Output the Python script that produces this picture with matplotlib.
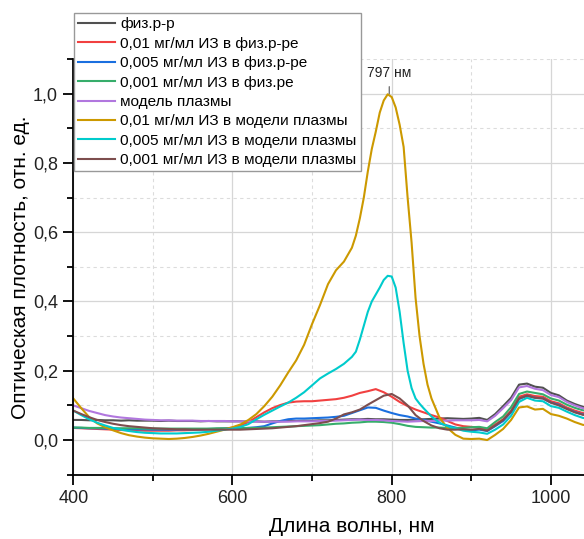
import matplotlib
matplotlib.use('Agg')
import matplotlib.pyplot as plt
from matplotlib.ticker import MultipleLocator, FuncFormatter

plt.rcParams['font.family'] = ['Liberation Sans', 'DejaVu Sans']

# wavelength grid, nm
wavelength = list(range(400, 1060, 10))
# finer grid round the peak for the two strong ICG curves
wavelength_peak = list(range(400, 751, 10)) + list(range(755, 851, 5)) + list(range(860, 1051, 10))

# optical density
phys = [0.058, 0.058, 0.057, 0.058, 0.057, 0.057, 0.056, 0.057, 0.056, 0.056,
        0.056, 0.055, 0.056, 0.055, 0.055, 0.055, 0.054, 0.055, 0.054, 0.054,
        0.054, 0.054, 0.053, 0.054, 0.053, 0.054, 0.054, 0.055, 0.055, 0.056,
        0.056, 0.057, 0.057, 0.058, 0.059, 0.060, 0.060, 0.061, 0.060, 0.060,
        0.059, 0.058, 0.058, 0.059, 0.060, 0.061, 0.062, 0.063, 0.062, 0.061,
        0.062, 0.064, 0.058, 0.075, 0.098, 0.122, 0.160, 0.163, 0.154, 0.151,
        0.136, 0.129, 0.114, 0.104, 0.096, 0.092]

red_01 = [0.035, 0.034, 0.033, 0.032, 0.031, 0.030, 0.029, 0.028, 0.028, 0.027,
          0.027, 0.027, 0.027, 0.028, 0.028, 0.029, 0.030, 0.031, 0.032, 0.033,
          0.036, 0.042, 0.052, 0.066, 0.080, 0.092, 0.101, 0.108, 0.111, 0.112,
          0.112, 0.114, 0.116, 0.118, 0.122, 0.128, 0.136, 0.141, 0.147, 0.138,
          0.125, 0.110, 0.098, 0.088, 0.080, 0.072, 0.065, 0.055, 0.045, 0.040,
          0.038, 0.036, 0.031, 0.045, 0.060, 0.085, 0.125, 0.132, 0.127, 0.125,
          0.112, 0.106, 0.094, 0.085, 0.078, 0.075]

blue_005 = [0.036, 0.035, 0.034, 0.034, 0.033, 0.033, 0.032, 0.032, 0.031, 0.031,
            0.030, 0.030, 0.030, 0.030, 0.031, 0.031, 0.031, 0.032, 0.032, 0.033,
            0.033, 0.034, 0.035, 0.037, 0.040, 0.048, 0.055, 0.060, 0.062, 0.062,
            0.063, 0.064, 0.065, 0.067, 0.070, 0.078, 0.086, 0.094, 0.093, 0.085,
            0.078, 0.072, 0.068, 0.062, 0.058, 0.053, 0.048, 0.042, 0.036, 0.030,
            0.028, 0.030, 0.026, 0.040, 0.055, 0.080, 0.118, 0.128, 0.122, 0.120,
            0.108, 0.102, 0.090, 0.081, 0.074, 0.071]

green_001 = [0.036, 0.036, 0.035, 0.035, 0.035, 0.034, 0.034, 0.034, 0.034, 0.033,
             0.033, 0.033, 0.033, 0.033, 0.033, 0.033, 0.033, 0.033, 0.034, 0.034,
             0.034, 0.034, 0.035, 0.035, 0.036, 0.037, 0.038, 0.039, 0.040, 0.041,
             0.042, 0.043, 0.045, 0.047, 0.048, 0.050, 0.051, 0.053, 0.053, 0.052,
             0.050, 0.046, 0.041, 0.038, 0.037, 0.036, 0.036, 0.035, 0.035, 0.035,
             0.037, 0.038, 0.034, 0.052, 0.068, 0.095, 0.133, 0.140, 0.136, 0.132,
             0.120, 0.114, 0.102, 0.093, 0.086, 0.083]

plasma = [0.100, 0.092, 0.084, 0.078, 0.072, 0.068, 0.065, 0.063, 0.061, 0.059,
          0.058, 0.057, 0.057, 0.056, 0.056, 0.056, 0.055, 0.055, 0.055, 0.055,
          0.054, 0.054, 0.054, 0.053, 0.053, 0.053, 0.053, 0.053, 0.054, 0.054,
          0.054, 0.055, 0.055, 0.056, 0.057, 0.058, 0.059, 0.058, 0.058, 0.057,
          0.055, 0.054, 0.053, 0.054, 0.055, 0.055, 0.056, 0.056, 0.057, 0.057,
          0.057, 0.058, 0.054, 0.070, 0.092, 0.115, 0.152, 0.156, 0.148, 0.144,
          0.130, 0.124, 0.110, 0.100, 0.092, 0.089]

# these two use wavelength_peak
gold_01 = [0.120, 0.092, 0.066, 0.048, 0.037, 0.028, 0.020, 0.014, 0.010, 0.007,
           0.005, 0.004, 0.003, 0.004, 0.006, 0.009, 0.013, 0.018, 0.024, 0.030,
           0.037, 0.045, 0.058, 0.075, 0.098, 0.125, 0.158, 0.195, 0.230, 0.275,
           0.335, 0.390, 0.450, 0.490, 0.515, 0.555,
           0.590, 0.640, 0.700, 0.775, 0.840, 0.890, 0.945, 0.980, 0.998, 0.990,
           0.960, 0.910, 0.846, 0.700, 0.570, 0.410, 0.300, 0.220, 0.160, 0.120,
           0.065, 0.035, 0.015, 0.004, 0.003, 0.004, 0.000, 0.015, 0.032, 0.058,
           0.094, 0.097, 0.088, 0.090, 0.075, 0.070, 0.062, 0.052, 0.044, 0.041]

cyan_005 = [0.085, 0.072, 0.060, 0.050, 0.042, 0.035, 0.030, 0.026, 0.023, 0.021,
            0.020, 0.019, 0.019, 0.019, 0.020, 0.021, 0.022, 0.024, 0.027, 0.030,
            0.033, 0.038, 0.046, 0.060, 0.073, 0.085, 0.097, 0.108, 0.122, 0.138,
            0.158, 0.178, 0.192, 0.205, 0.220, 0.240,
            0.255, 0.290, 0.330, 0.370, 0.400, 0.420, 0.440, 0.462, 0.474, 0.472,
            0.440, 0.370, 0.280, 0.200, 0.150, 0.120, 0.105, 0.092, 0.080, 0.068,
            0.050, 0.040, 0.034, 0.027, 0.024, 0.022, 0.018, 0.030, 0.045, 0.070,
            0.110, 0.122, 0.114, 0.112, 0.098, 0.093, 0.082, 0.072, 0.064, 0.060]

brown_001 = [0.085, 0.075, 0.066, 0.058, 0.052, 0.047, 0.043, 0.040, 0.038, 0.036,
             0.034, 0.033, 0.032, 0.031, 0.031, 0.030, 0.030, 0.030, 0.030, 0.030,
             0.030, 0.030, 0.031, 0.032, 0.033, 0.034, 0.036, 0.038, 0.040, 0.043,
             0.046, 0.049, 0.053, 0.062, 0.074, 0.080, 0.088, 0.102, 0.115, 0.128,
             0.133, 0.120, 0.100, 0.072, 0.055, 0.042, 0.034, 0.030, 0.030, 0.031,
             0.030, 0.032, 0.027, 0.042, 0.058, 0.082, 0.120, 0.128, 0.122, 0.120,
             0.108, 0.100, 0.090, 0.080, 0.073, 0.070]

labels = ['физ.р-р',
          '0,01 мг/мл ИЗ в физ.р-ре',
          '0,005 мг/мл ИЗ в физ.р-ре',
          '0,001 мг/мл ИЗ в физ.ре',
          'модель плазмы',
          '0,01 мг/мл ИЗ в модели плазмы',
          '0,005 мг/мл ИЗ в модели плазмы',
          '0,001 мг/мл ИЗ в модели плазмы']
series = [phys, red_01, blue_005, green_001, plasma, gold_01, cyan_005, brown_001]
grids = [wavelength] * 5 + [wavelength_peak, wavelength_peak, wavelength]
colors = ['#515151', '#F14040', '#1A6FDF', '#37AD6B',
          '#B177DE', '#CC9900', '#00CBCC', '#7D4E4E']

fig = plt.figure(figsize=(5.84, 5.39), dpi=100)
# axes run past the right edge of the picture, as in the original crop
ax = fig.add_axes([0.1255, 0.1193, 0.9541, 0.7714])

for x, y, lab, c in zip(grids, series, labels, colors):
    ax.plot(x, y, color=c, lw=1.5, label=lab)

ax.set_xlim(400, 1100)
ax.set_ylim(-0.1, 1.1)

ax.xaxis.set_major_locator(MultipleLocator(200))
ax.xaxis.set_minor_locator(MultipleLocator(100))
ax.yaxis.set_major_locator(MultipleLocator(0.2))
ax.yaxis.set_minor_locator(MultipleLocator(0.1))

def comma(v, pos):
    if abs(v) < 1e-9:
        v = 0.0
    return f'{v:.1f}'.replace('.', ',')

ax.yaxis.set_major_formatter(FuncFormatter(comma))

ax.grid(which='major', color='#d6d6d6', lw=0.9)
ax.grid(which='minor', color='#dcdcdc', lw=0.8, ls=(0, (3, 3)))
ax.set_axisbelow(True)

for s in ['top', 'right']:
    ax.spines[s].set_visible(False)
for s in ['left', 'bottom']:
    ax.spines[s].set_linewidth(1.3)

ax.tick_params(which='major', direction='out', length=7, width=1.3,
               labelsize=13, pad=4, labelcolor='#222222')
ax.tick_params(which='minor', direction='out', length=4, width=1.3)

ax.set_xlabel('Длина волны, нм', fontsize=15, labelpad=7)
ax.set_ylabel('Оптическая плотность, отн. ед.', fontsize=15, labelpad=2)

# peak marker
ax.annotate('797 нм', xy=(797, 1.0), xytext=(797, 1.06), ha='center', va='center',
            fontsize=10, color='#222222',
            arrowprops=dict(arrowstyle='-', color='#777777', lw=1, shrinkA=3, shrinkB=0))

leg = ax.legend(loc='upper left', bbox_to_anchor=(74 / 584, 1 - 13 / 539),
                bbox_transform=fig.transFigure, borderaxespad=0, fontsize=11.1,
                handlelength=2.35, handletextpad=0.35, labelspacing=0.35,
                borderpad=0.28, fancybox=False, framealpha=1, edgecolor='#999999')
leg.get_frame().set_linewidth(1)

fig.savefig('out.png', dpi=100)
